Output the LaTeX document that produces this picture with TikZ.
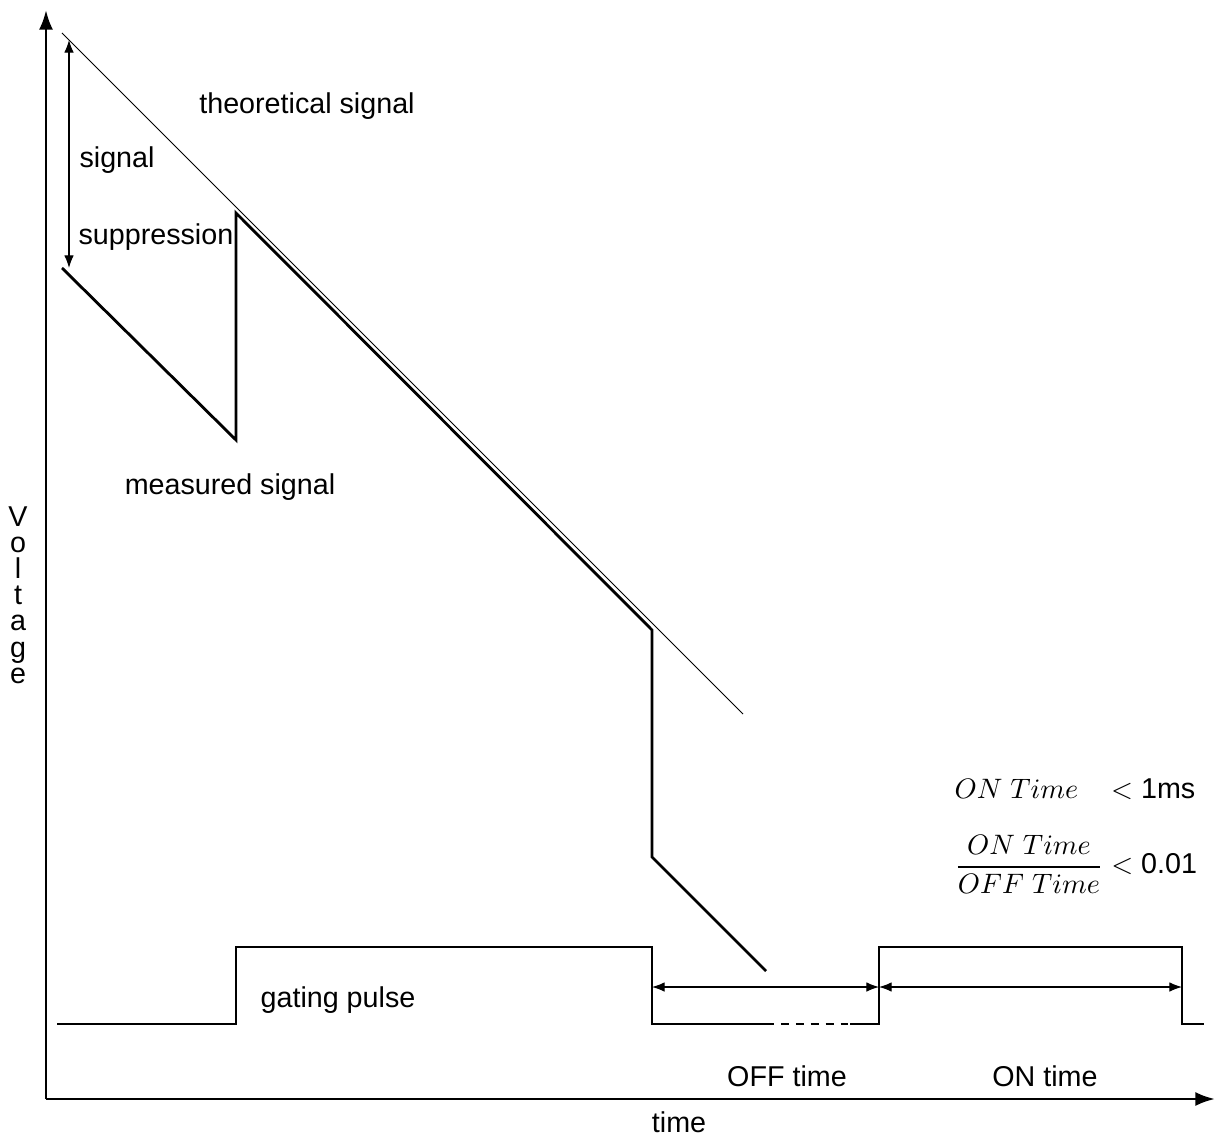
\documentclass[tikz,border=0pt]{standalone}
\usepackage{fontspec}
\setmainfont{Liberation Sans}
\usetikzlibrary{arrows.meta}

\begin{document}
\begin{tikzpicture}[x=0.0125cm, y=-0.0125cm,
    axis/.style={line width=1pt, -{Latex[length=7pt,width=5pt]}},
    theory/.style={line width=0.35pt},
    measured/.style={line width=1pt, line join=miter},
    pulse/.style={line width=0.5pt},
    dim/.style={line width=0.4pt, {Latex[length=4.5pt,width=3.4pt]}-{Latex[length=4.5pt,width=3.4pt]}},
    lbl/.style={inner sep=0pt, font=\fontsize{10.2}{12.2}\selectfont}]
  \useasboundingbox (0,0) rectangle (1217,1137);

  % Axes
  \coordinate (origin) at (46,1099);
  \coordinate (ytop) at (46,10);
  \coordinate (xend) at (1215,1099);
  \draw[axis] (origin) -- (ytop);
  \draw[axis] (origin) -- (xend);
  \node[lbl] (tlabel) at (679,1122) {time};
  \node[lbl, align=center, font=\fontsize{10.2}{9.3}\selectfont] (vlabel) at (18,595)
    {V\\o\\l\\t\\a\\g\\e};

  % Theoretical signal
  \coordinate (th0) at (62,33);
  \coordinate (th1) at (743,714);
  \draw[theory] (th0) -- (th1);
  \node[lbl] (thlabel) at (307,106) {theoretical signal};

  % Measured signal
  \coordinate (m0) at (62,268);
  \coordinate (m1) at (236,440);
  \coordinate (m2) at (236,213);
  \coordinate (m3) at (652,630);
  \coordinate (m4) at (652,857);
  \coordinate (m5) at (766,971);
  \draw[measured] (m0) -- (m1) -- (m2) -- (m3) -- (m4) -- (m5);
  \node[lbl] (mlabel) at (230,487) {measured signal};

  % Signal suppression
  \coordinate (ss0) at (69,40);
  \coordinate (ss1) at (69,268);
  \draw[dim] (ss0) -- (ss1);
  \node[lbl, anchor=west] (sslabel1) at (79,160) {signal};
  \node[lbl, anchor=west] (sslabel2) at (78,237) {suppression};

  % Gating pulse
  \coordinate (g0) at (57,1024);
  \coordinate (g1) at (236,1024);
  \coordinate (g2) at (236,947);
  \coordinate (g3) at (652,947);
  \coordinate (g4) at (652,1024);
  \coordinate (g5) at (766,1024);
  \coordinate (g6) at (850,1024);
  \coordinate (g7) at (879,1024);
  \coordinate (g8) at (879,947);
  \coordinate (g9) at (1182,947);
  \coordinate (g10) at (1182,1024);
  \coordinate (g11) at (1204,1024);
  \draw[pulse] (g0) -- (g1) -- (g2) -- (g3) -- (g4) -- (g5);
  \draw[pulse, dash pattern=on 2.8pt off 2.5pt] (g5) -- (g6);
  \draw[pulse] (g6) -- (g7) -- (g8) -- (g9) -- (g10) -- (g11);
  \node[lbl] (glabel) at (338,1000) {gating pulse};

  % OFF and ON time
  \coordinate (off0) at (652,987);
  \coordinate (off1) at (879,987);
  \coordinate (on1) at (1182,987);
  \draw[dim] (off0) -- (off1);
  \draw[dim] (off1) -- (on1);
  \node[lbl] (offlabel) at (787,1076) {OFF time};
  \node[lbl] (onlabel) at (1045,1076) {ON time};

  % Conditions
  \node[lbl, anchor=west] (cond) at (954,834)
    {\begin{tabular}{@{}l@{\;}l@{}}
      $ON\ Time$ & $<$ 1ms\\[9.5pt]
      $\displaystyle\frac{ON\ Time}{OFF\ Time}$ & $<$ 0.01
    \end{tabular}};
\end{tikzpicture}
\end{document}
